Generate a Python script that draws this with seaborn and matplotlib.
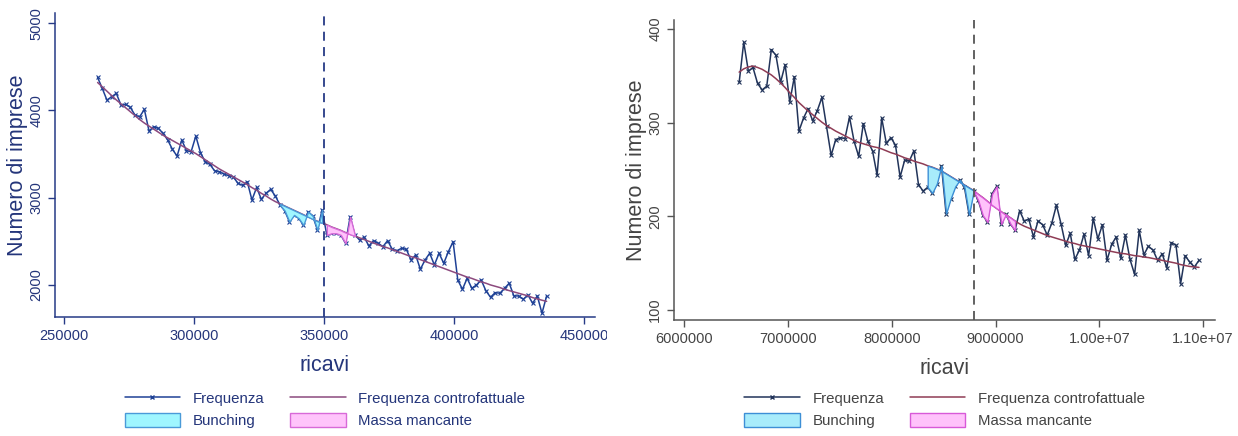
import numpy as np
import pandas as pd
import seaborn as sns
import matplotlib.pyplot as plt
from matplotlib.lines import Line2D
from matplotlib.patches import Patch
from matplotlib.transforms import Bbox, TransformedBbox

sns.set_theme(style="ticks")
plt.rcParams['font.family'] = ['Liberation Sans', 'DejaVu Sans']

# --- pannello sinistro ---
ricavi_sx = np.arange(262800, 435601, 1800)
freq_sx = [4378, 4252, 4118, 4156, 4195, 4061, 4069, 4034, 3946, 3927,
           4011, 3763, 3813, 3794, 3737, 3660, 3553, 3477, 3660, 3538,
           3527, 3706, 3515, 3412, 3382, 3309, 3298, 3271, 3252, 3240,
           3164, 3141, 3183, 2973, 3118, 2981, 3050, 3095, 3019, 2916,
           2851, 2725, 2802, 2763, 2687, 2840, 2790, 2630, 2859, 2573,
           2592, 2592, 2573, 2477, 2782, 2573, 2515, 2546, 2447, 2508,
           2477, 2439, 2508, 2408, 2393, 2420, 2408, 2286, 2344, 2179,
           2286, 2363, 2229, 2363, 2248, 2382, 2496, 2057, 1950, 2076,
           1962, 2000, 2057, 1935, 1859, 1912, 1905, 1962, 2019, 1874,
           1874, 1836, 1885, 1790, 1874, 1676, 1874]
contro_sx = [4320, 4270, 4220, 4170, 4120, 4075, 4030, 3985, 3940, 3895,
             3855, 3820, 3785, 3750, 3715, 3685, 3655, 3625, 3595, 3565,
             3535, 3505, 3470, 3435, 3400, 3365, 3330, 3300, 3270, 3240,
             3210, 3180, 3150, 3115, 3085, 3050, 3020, 2985, 2955, 2930,
             2905, 2880, 2855, 2830, 2805, 2780, 2755, 2730, 2710, 2690,
             2665, 2645, 2625, 2600, 2580, 2560, 2540, 2520, 2500, 2480,
             2460, 2440, 2425, 2405, 2385, 2365, 2345, 2325, 2310, 2290,
             2270, 2250, 2230, 2210, 2190, 2170, 2150, 2130, 2110, 2090,
             2075, 2055, 2035, 2020, 2000, 1985, 1970, 1950, 1935, 1920,
             1905, 1890, 1875, 1855, 1840, 1825, 1812]
soglia_sx = 350000
bunching_sx = (333000, 349500)
mancante_sx = (350500, 362000)
xticks_sx = [250000, 300000, 350000, 400000, 450000]
xlabels_sx = ["250000", "300000", "350000", "400000", "450000"]
yticks_sx = [2000, 3000, 4000, 5000]

# --- pannello destro ---
ricavi_dx = 6530000 + 44300 * np.arange(101)
freq_dx = [343, 386, 355, 359, 342, 335, 339, 378, 372, 343,
           362, 322, 349, 291, 305, 315, 302, 313, 327, 296,
           265, 282, 284, 283, 306, 280, 264, 299, 280, 270,
           244, 305, 278, 284, 276, 242, 260, 259, 270, 234,
           227, 231, 225, 235, 254, 203, 219, 232, 239, 231,
           202, 227, 217, 201, 194, 224, 232, 192, 202, 192,
           185, 206, 195, 197, 178, 195, 191, 180, 193, 212,
           192, 169, 182, 154, 164, 181, 158, 198, 176, 191,
           153, 170, 178, 155, 180, 154, 138, 185, 159, 168,
           164, 153, 160, 145, 172, 169, 128, 158, 151, 146,
           153]
contro_dx = [354, 357.5, 359.5, 360.5, 359, 357, 354, 351, 347, 342.5,
             337.5, 332, 327, 321.5, 317, 312.5, 308.5, 304.5, 300.5, 297,
             294, 291, 288.5, 286, 283.5, 281, 279, 277.5, 276, 274.5,
             273.5, 272, 270, 268, 266.5, 264.5, 262.5, 261, 259, 257.5,
             256, 254, 252.5, 250.5, 248.5, 245.5, 242.5, 239.5, 236.5, 233.5,
             230.5, 227.5, 223.5, 220, 216, 212, 208.5, 205, 201.5, 198.5,
             195, 192, 189.5, 187.5, 185.5, 183.5, 181.5, 179.5, 178, 176.5,
             175, 173.5, 172, 171, 169.5, 168.5, 167.5, 166.5, 165.5, 164.5,
             163.5, 162.5, 161.5, 160.5, 160, 159, 158, 157.5, 156.5, 156,
             155, 154, 153, 152, 151, 150, 148.5, 147.5, 146.5, 146,
             145.5]
soglia_dx = 8790000
bunching_dx = (8340000, 8790000)
mancante_dx = (8789000, 9190000)
xticks_dx = [6000000, 7000000, 8000000, 9000000, 10000000, 11000000]
xlabels_dx = ["6000000", "7000000", "8000000", "9000000", "1.00e+07", "1.10e+07"]
yticks_dx = [100, 200, 300, 400]

fig = plt.figure(figsize=(12.38, 4.36), dpi=100)
ax1 = fig.add_axes([0.0444, 0.273, 0.4362, 0.697])
ax2 = fig.add_axes([0.5444, 0.266, 0.4370, 0.688])


def pannello(ax, x, freq, contro, soglia, bunch, manc, xt, xl, yt, xlim, ylim,
             c_freq, c_contro, c_testo, c_assi, c_ciano, e_ciano, c_rosa, e_rosa,
             clip_x):
    df = pd.DataFrame({"ricavi": x, "freq": freq, "contro": contro})
    sns.lineplot(data=df, x="ricavi", y="freq", ax=ax, color=c_freq, lw=1.1,
                 marker="x", markersize=3, markeredgewidth=0.8, markeredgecolor=c_freq)
    sns.lineplot(data=df, x="ricavi", y="contro", ax=ax, color=c_contro, lw=1.1)
    mb = (df.ricavi >= bunch[0]) & (df.ricavi <= bunch[1])
    ax.fill_between(df.ricavi[mb], df.freq[mb], df.contro[mb],
                    facecolor=c_ciano, edgecolor=e_ciano, lw=1.0, zorder=3)
    mm = (df.ricavi >= manc[0]) & (df.ricavi <= manc[1])
    ax.fill_between(df.ricavi[mm], df.freq[mm], df.contro[mm],
                    facecolor=c_rosa, edgecolor=e_rosa, lw=1.0, zorder=3)
    ax.axvline(soglia, color=c_assi, ls=(0, (5, 3.5)), lw=1.3, zorder=4)

    ax.set_xlim(*xlim)
    ax.set_ylim(*ylim)
    ax.set_xticks(xt, xl)
    ax.set_yticks(yt)
    ax.tick_params(axis="both", colors=c_assi, labelcolor=c_testo, labelsize=10.5,
                   length=5, width=1, direction="out")
    plt.setp(ax.get_yticklabels(), rotation=90, va="center")
    sns.despine(ax=ax)
    for s in ("left", "bottom"):
        ax.spines[s].set_color(c_assi)
        ax.spines[s].set_linewidth(1.1)
    ax.set_xlabel("ricavi", fontsize=15.5, color=c_testo)
    ax.set_ylabel("Numero di imprese", fontsize=15.5, color=c_testo)
    ax.xaxis.set_label_coords(0.5, -0.125)
    ax.yaxis.set_label_coords(-0.05, 0.5)

    clip = TransformedBbox(Bbox([[0, 0], [clip_x, 1]]), fig.transFigure)
    for t in ax.get_xticklabels():
        t.set_clip_on(True)
        t.set_clip_box(clip)

    handles = [Line2D([], [], color=c_freq, lw=1.1, marker="x", markersize=3),
               Patch(facecolor=c_ciano, edgecolor=e_ciano, lw=1.0),
               Line2D([], [], color=c_contro, lw=1.1),
               Patch(facecolor=c_rosa, edgecolor=e_rosa, lw=1.0)]
    labels = ["Frequenza", "Bunching", "Frequenza controfattuale", "Massa mancante"]
    pos = ax.get_position()
    leg = ax.legend(handles, labels, ncol=2, frameon=False, fontsize=10.8,
                    loc="upper center", bbox_to_anchor=((pos.x0 + pos.x1) / 2, 1 - 378 / 436),
                    bbox_transform=fig.transFigure, handlelength=3.7, handleheight=1.0,
                    handletextpad=0.85, columnspacing=1.7, labelspacing=0.45)
    for t in leg.get_texts():
        t.set_color(c_testo)


pannello(ax1, ricavi_sx, freq_sx, contro_sx, soglia_sx, bunching_sx, mancante_sx,
         xticks_sx, xlabels_sx, yticks_sx, (246400, 454200), (1633, 5115),
         "#1f4196", "#8c4a7e", "#24357a", "#263a86", "#9ff6ff", "#4a9ad8",
         "#ffc4fb", "#d86ad8", 607 / 1238)
pannello(ax2, ricavi_dx, freq_dx, contro_dx, soglia_dx, bunching_dx, mancante_dx,
         xticks_dx, xlabels_dx, yticks_dx, (5902000, 11114000), (89.3, 409.6),
         "#22345a", "#8f3c55", "#444444", "#555555", "#a8ecfb", "#3d8fd6",
         "#ffc2fb", "#d85ad8", 1.0)

fig.savefig("out.png", dpi=100)
